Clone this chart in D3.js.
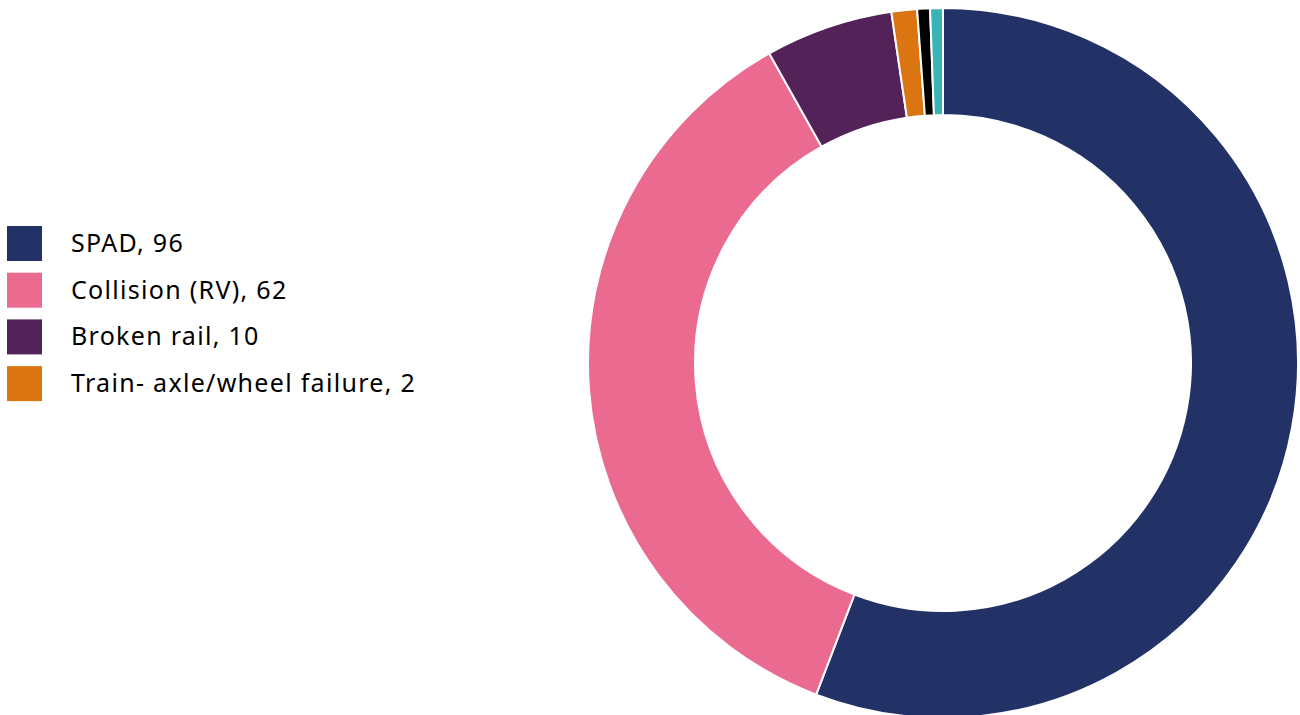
<!DOCTYPE html>
<html>
<head>
<meta charset="utf-8">
<script src="https://cdn.jsdelivr.net/npm/d3@7"></script>
<style>
  body { margin: 0; background: #fff; }
  svg { display: block; }
</style>
</head>
<body>
<div id="chart"></div>
<script>
const categories = ['SPAD', 'Collision (RV)', 'Broken rail', 'Train- axle/wheel failure', 'Other 1', 'Other 2'];
const values = [96, 62, 10, 2, 1, 1];
const colors = ['#233266', '#eb6a8f', '#522258', '#da7512', '#000000', '#3ab5b5'];
const legendCount = 4;

const w = 1300;
const h = 715;

const svg = d3.select('#chart').append('svg').attr('width', w).attr('height', h);

const cx = 943;
const cy = 363;
const outerR = 355;
const innerR = 248;

const pie = d3.pie().sort(null).value(d => d.value);
const arc = d3.arc().innerRadius(innerR).outerRadius(outerR);

const data = categories.map((c, i) => ({ name: c, value: values[i], color: colors[i] }));

svg.append('g')
   .attr('transform', `translate(${cx}, ${cy})`)
   .selectAll('path')
   .data(pie(data))
   .enter()
   .append('path')
   .attr('d', arc)
   .attr('fill', d => d.data.color)
   .attr('stroke', '#fff')
   .attr('stroke-width', 2);

// legend only lists the first few entries
const legend = svg.append('g').attr('transform', 'translate(7, 226)');

const items = legend.selectAll('g')
    .data(data.slice(0, legendCount))
    .enter()
    .append('g')
    .attr('transform', (d, i) => `translate(0, ${i * 46.7})`);

items.append('rect')
     .attr('width', 35)
     .attr('height', 35)
     .attr('fill', d => d.color);

items.append('text')
     .attr('x', 64)
     .attr('y', 26)
     .attr('font-family', 'Noto Sans')
     .attr('font-size', 25)
     .attr('letter-spacing', 1.3)
     .attr('fill', '#000')
     .text(d => `${d.name}, ${d.value}`);
</script>
</body>
</html>
